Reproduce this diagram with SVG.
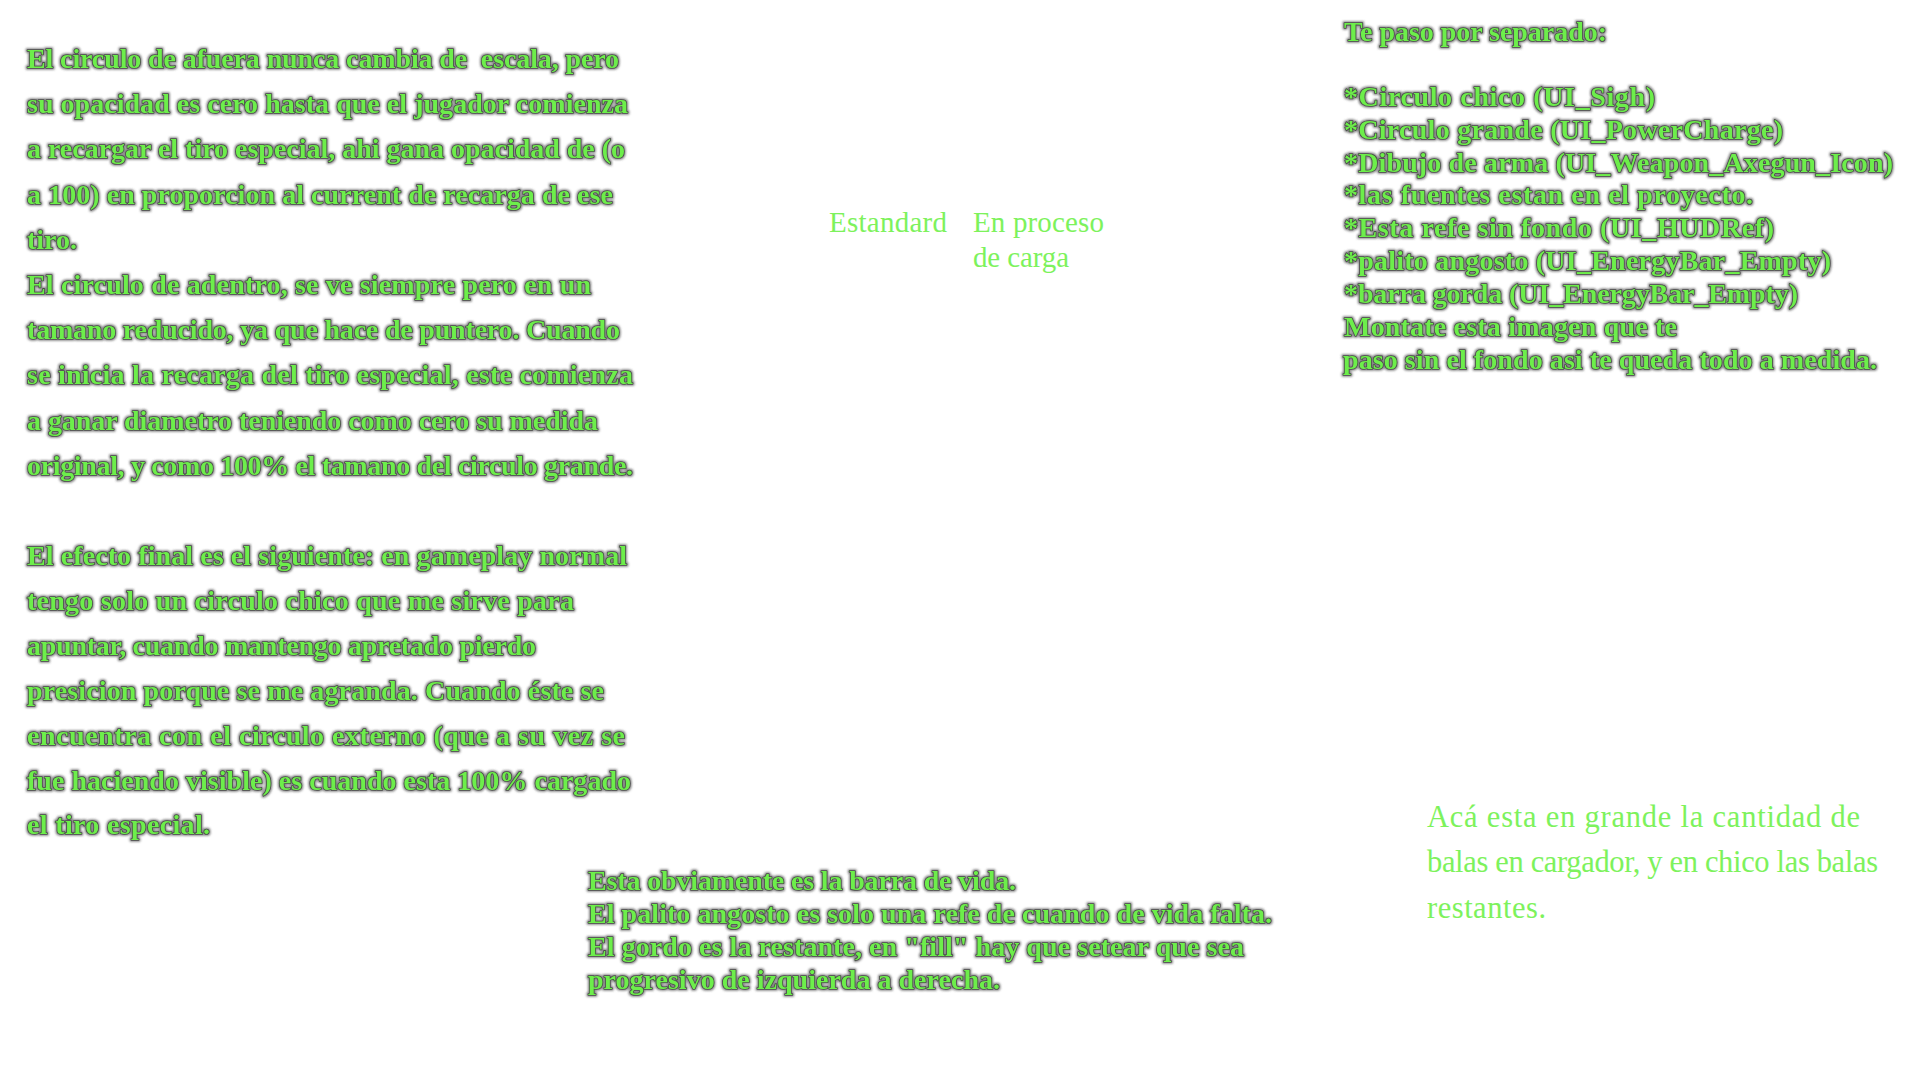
<svg xmlns="http://www.w3.org/2000/svg" width="1920" height="1080" viewBox="0 0 1920 1080">
<defs>
<filter id="halo" x="-5%" y="-40%" width="110%" height="180%">
<feMorphology in="SourceAlpha" operator="dilate" radius="1" result="d"/>
<feGaussianBlur in="d" stdDeviation="1.3" result="b"/>
<feFlood flood-color="#505050" flood-opacity="0.7"/>
<feComposite in2="b" operator="in" result="s"/>
<feMerge><feMergeNode in="s"/><feMergeNode in="SourceGraphic"/></feMerge>
</filter>
<style>
.b{font-family:"Liberation Serif","Times New Roman",serif;font-weight:bold;font-size:28px;fill:#6dee4b;stroke:#4a4a4a;stroke-width:1.6;stroke-linejoin:round;paint-order:stroke;filter:url(#halo)}
.l{font-family:"Liberation Serif","Times New Roman",serif;font-size:29px;fill:#7df25c}
.l2{font-family:"Liberation Serif","Times New Roman",serif;font-size:30.5px;fill:#7df25c}
</style>
</defs>
<rect width="1920" height="1080" fill="#ffffff"/>
<g id="left-text" transform="translate(0,2.5)">
<text class="b" x="27" y="65" textLength="592" xml:space="preserve">El circulo de afuera nunca cambia de  escala, pero</text>
<text class="b" x="27" y="110" textLength="601">su opacidad es cero hasta que el jugador comienza</text>
<text class="b" x="27" y="155" textLength="598">a recargar el tiro especial, ahi gana opacidad de (o</text>
<text class="b" x="27" y="201" textLength="586">a 100) en proporcion al current de recarga de ese</text>
<text class="b" x="27" y="246">tiro.</text>
<text class="b" x="27" y="291" textLength="564">El circulo de adentro, se ve siempre pero en un</text>
<text class="b" x="27" y="336" textLength="593">tamano reducido, ya que hace de puntero. Cuando</text>
<text class="b" x="27" y="381" textLength="606">se inicia la recarga del tiro especial, este comienza</text>
<text class="b" x="27" y="427" textLength="571">a ganar diametro teniendo como cero su medida</text>
<text class="b" x="27" y="472" textLength="606">original, y como 100% el tamano del circulo grande.</text>
<text class="b" x="27" y="562" textLength="600">El efecto final es el siguiente: en gameplay normal</text>
<text class="b" x="27" y="607" textLength="547">tengo solo un circulo chico que me sirve para</text>
<text class="b" x="27" y="652" textLength="509">apuntar, cuando mantengo apretado pierdo</text>
<text class="b" x="27" y="697" textLength="577">presicion porque se me agranda. Cuando éste se</text>
<text class="b" x="27" y="742" textLength="598">encuentra con el circulo externo (que a su vez se</text>
<text class="b" x="27" y="787" textLength="604">fue haciendo visible) es cuando esta 100% cargado</text>
<text class="b" x="27" y="831" textLength="183">el tiro especial.</text>
</g>
<g id="state-labels" transform="translate(0,2.5)">
<text class="l" x="829" y="229" textLength="118">Estandard</text>
<text class="l" x="973" y="229" textLength="131">En proceso</text>
<text class="l" x="973" y="264" textLength="96">de carga</text>
</g>
<g id="right-text" transform="translate(0,2.5)">
<text class="b" x="1344" y="38" textLength="263">Te paso por separado:</text>
<text class="b" x="1344" y="103" textLength="311">*Circulo chico (UI_Sigh)</text>
<text class="b" x="1344" y="136" textLength="439">*Circulo grande (UI_PowerCharge)</text>
<text class="b" x="1344" y="169" textLength="549">*Dibujo de arma (UI_Weapon_Axegun_Icon)</text>
<text class="b" x="1344" y="201" textLength="409">*las fuentes estan en el proyecto.</text>
<text class="b" x="1344" y="234" textLength="430">*Esta refe sin fondo (UI_HUDRef)</text>
<text class="b" x="1344" y="267" textLength="487">*palito angosto (UI_EnergyBar_Empty)</text>
<text class="b" x="1344" y="300" textLength="454">*barra gorda (UI_EnergyBar_Empty)</text>
<text class="b" x="1344" y="333" textLength="333">Montate esta imagen que te</text>
<text class="b" x="1343" y="366" textLength="534">paso sin el fondo asi te queda todo a medida.</text>
</g>
<g id="bar-text" transform="translate(0,2)">
<text class="b" x="588" y="888" textLength="428">Esta obviamente es la barra de vida.</text>
<text class="b" x="588" y="921" textLength="684">El palito angosto es solo una refe de cuando de vida falta.</text>
<text class="b" x="588" y="954" textLength="656">El gordo es la restante, en "fill" hay que setear que sea</text>
<text class="b" x="588" y="987" textLength="412">progresivo de izquierda a derecha.</text>
</g>
<g id="ammo-text" transform="translate(0,2)">
<text class="l2" x="1427" y="825" textLength="433">Acá esta en grande la cantidad de</text>
<text class="l2" x="1427" y="870" textLength="451">balas en cargador, y en chico las balas</text>
<text class="l2" x="1427" y="916" textLength="119">restantes.</text>
</g>
</svg>
